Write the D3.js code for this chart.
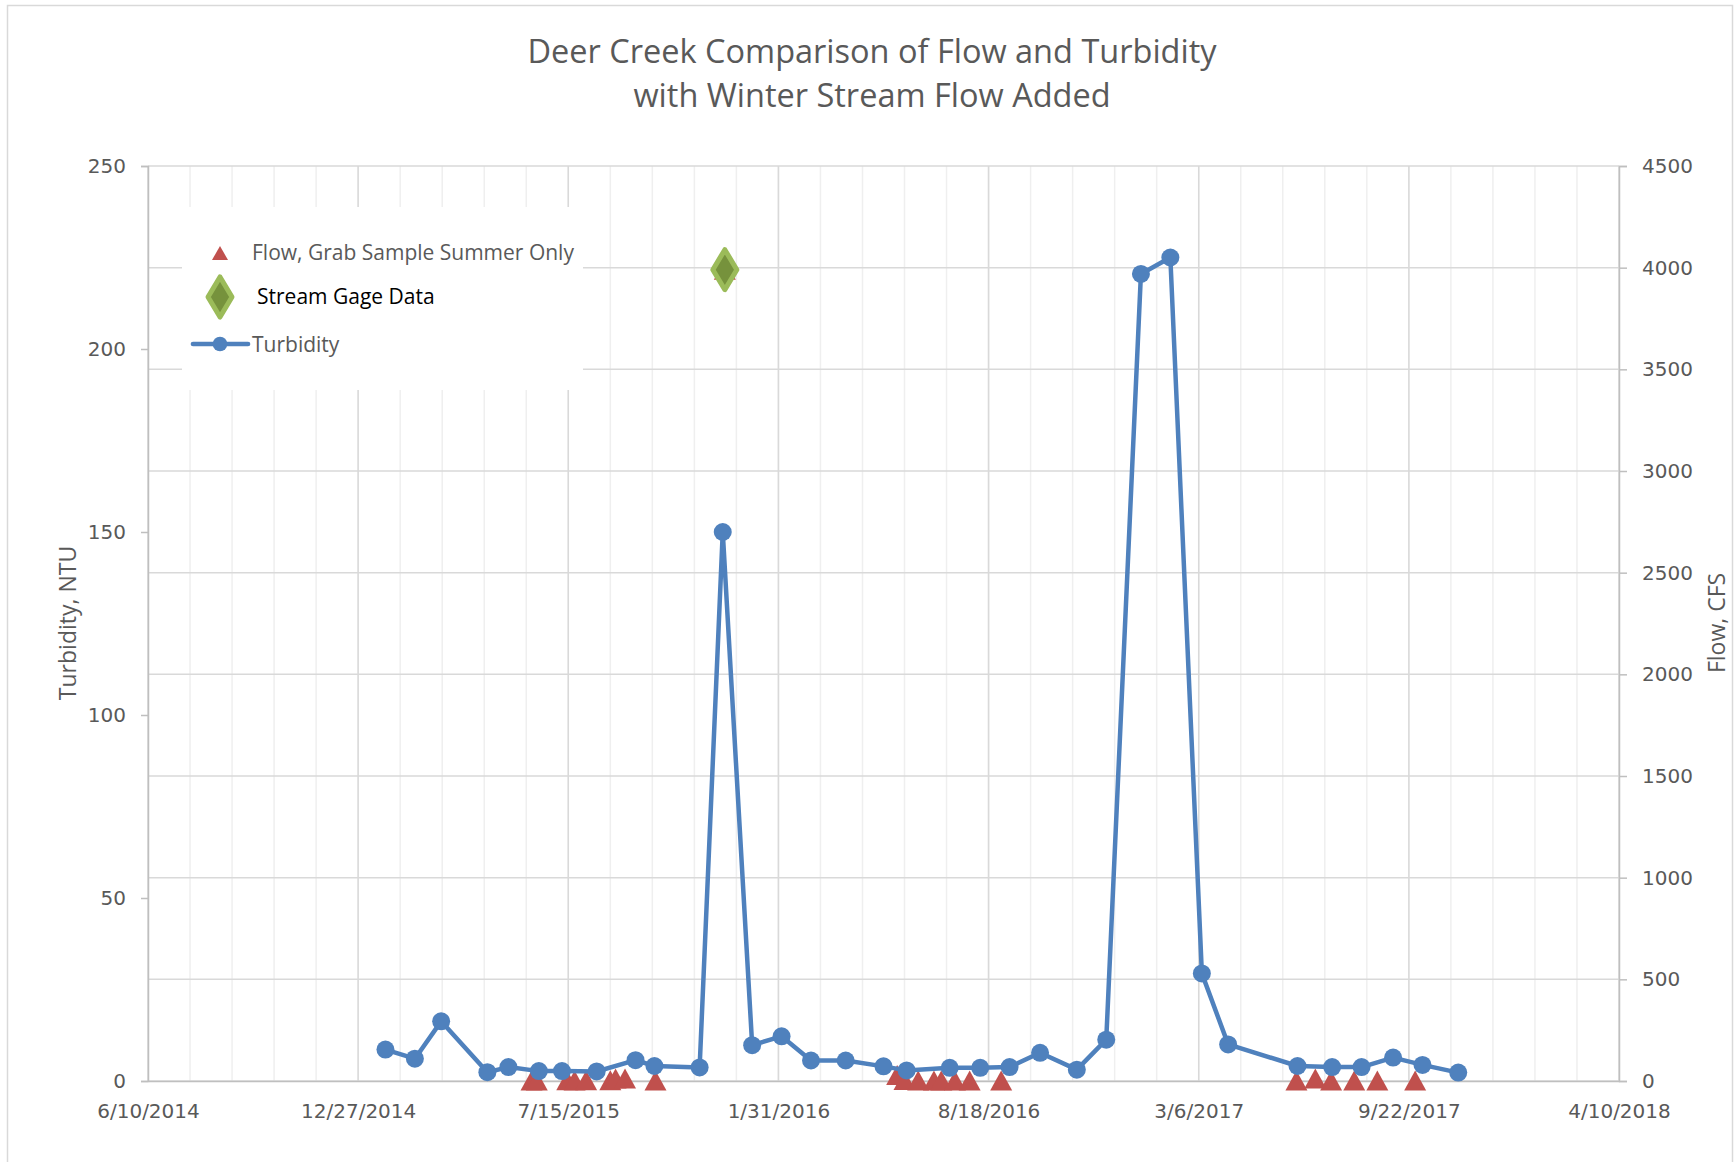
<!DOCTYPE html>
<html>
<head>
<meta charset="utf-8">
<script src="https://cdn.jsdelivr.net/npm/d3@7"></script>
<style>
  body { margin: 0; background: #fff; }
  svg { display: block; }
</style>
</head>
<body>
<svg id="chart" width="1735" height="1162"></svg>
<script>
// ---- data ----
const turbidityDates = [
  "2015-01-22", "2015-02-19", "2015-03-16", "2015-04-29", "2015-05-19", "2015-06-17",
  "2015-07-09", "2015-08-11", "2015-09-17", "2015-10-05", "2015-11-17", "2015-12-09",
  "2016-01-06", "2016-02-03", "2016-03-02", "2016-04-04", "2016-05-10", "2016-06-01",
  "2016-07-12", "2016-08-10", "2016-09-07", "2016-10-06", "2016-11-10", "2016-12-08",
  "2017-01-10", "2017-02-07", "2017-03-09", "2017-04-03", "2017-06-08", "2017-07-11",
  "2017-08-08", "2017-09-07", "2017-10-05", "2017-11-08"
];
const turbidityValues = [
  8.6, 6.1, 16.3, 2.4, 3.8, 2.7,
  2.7, 2.6, 5.7, 4.1, 3.7, 150,
  9.8, 12.2, 5.6, 5.6, 4.0, 2.9,
  3.6, 3.6, 3.8, 7.7, 3.1, 11.3,
  220.5, 225, 29.4, 10.0, 4.1, 3.8,
  3.8, 6.4, 4.4, 2.3
];

const grabDates = [
  "2015-06-10", "2015-06-15", "2015-07-14", "2015-07-21", "2015-08-01", "2015-08-24",
  "2015-08-29", "2015-09-07", "2015-10-06", "2015-12-11",
  "2016-05-23", "2016-05-30", "2016-06-12", "2016-06-27", "2016-07-04", "2016-07-17",
  "2016-07-31", "2016-08-30",
  "2017-06-07", "2017-06-25", "2017-07-10", "2017-08-01", "2017-08-23", "2017-09-28"
];
const grabFlows = [
  3, 3, 4, 3, 4, 4,
  12, 12, 3, 3990,
  30, 5, 3, 3, 3, 3,
  3, 3,
  3, 12, 3, 3, 3, 3
];

const gageDates = ["2015-12-11"];
const gageFlows = [3990];

const xTickLabels = ["6/10/2014", "12/27/2014", "7/15/2015", "1/31/2016",
                     "8/18/2016", "3/6/2017", "9/22/2017", "4/10/2018"];
const turbidityTicks = [0, 50, 100, 150, 200, 250];
const flowTicks = [0, 500, 1000, 1500, 2000, 2500, 3000, 3500, 4000, 4500];

// ---- layout ----
const svg = d3.select("#chart");
const plot = { left: 148, right: 1619, top: 166, bottom: 1081 };
const textGray = "#595959";

const parseISO = d3.utcParse("%Y-%m-%d");
const parseLabel = d3.utcParse("%m/%d/%Y");
const tickDates = xTickLabels.map(parseLabel);

const x = d3.scaleUtc()
  .domain([tickDates[0], tickDates[tickDates.length - 1]])
  .range([plot.left, plot.right]);
const yTurb = d3.scaleLinear().domain([0, 250]).range([plot.bottom, plot.top]);
const yFlow = d3.scaleLinear().domain([0, 4500]).range([plot.bottom, plot.top]);

// chart frame
svg.append("rect")
  .attr("x", 7.5).attr("y", 5.5)
  .attr("width", 1725).attr("height", 1180)
  .attr("fill", "#fff").attr("stroke", "#d9d9d9").attr("stroke-width", 1.5);

// minor vertical gridlines every 40 days
const minorDates = d3.range(0, 1401, 40).map(d => d3.utcDay.offset(tickDates[0], d));
svg.append("g").selectAll("line")
  .data(minorDates)
  .join("line")
  .attr("x1", d => x(d)).attr("x2", d => x(d))
  .attr("y1", plot.top).attr("y2", plot.bottom)
  .attr("stroke", "#efefef").attr("stroke-width", 1.5);

// major vertical gridlines
svg.append("g").selectAll("line")
  .data(tickDates)
  .join("line")
  .attr("x1", d => x(d)).attr("x2", d => x(d))
  .attr("y1", plot.top).attr("y2", plot.bottom)
  .attr("stroke", "#d9d9d9").attr("stroke-width", 1.5);

// horizontal gridlines (secondary axis)
svg.append("g").selectAll("line")
  .data(flowTicks)
  .join("line")
  .attr("x1", plot.left).attr("x2", plot.right)
  .attr("y1", d => yFlow(d)).attr("y2", d => yFlow(d))
  .attr("stroke", "#d9d9d9").attr("stroke-width", 1.5);

// ---- axes ----
const axisFont = "'DejaVu Sans', Verdana, sans-serif";

const leftAxis = svg.append("g")
  .attr("transform", `translate(${plot.left},0)`)
  .call(d3.axisLeft(yTurb).tickValues(turbidityTicks).tickSize(7).tickPadding(15)
    .tickFormat(d3.format("d")));

const rightAxis = svg.append("g")
  .attr("transform", `translate(${plot.right},0)`)
  .call(d3.axisRight(yFlow).tickValues(flowTicks).tickSize(8).tickPadding(15)
    .tickFormat(d3.format("d")));

const bottomAxis = svg.append("g")
  .attr("transform", `translate(0,${plot.bottom})`)
  .call(d3.axisBottom(x).tickValues(tickDates).tickSize(0)
    .tickFormat((d, i) => xTickLabels[i]));

[leftAxis, rightAxis, bottomAxis].forEach(g => {
  g.select(".domain").attr("stroke", "#bfbfbf").attr("stroke-width", 1.5);
  g.selectAll(".tick line").attr("stroke", "#bfbfbf").attr("stroke-width", 1.5);
  g.selectAll(".tick text")
    .attr("fill", textGray)
    .style("font-family", axisFont)
    .style("font-size", "20px");
});
bottomAxis.selectAll(".tick text").attr("y", 37).attr("dy", 0);

// axis titles
svg.append("text")
  .attr("transform", `translate(67,623) rotate(-90)`)
  .attr("text-anchor", "middle")
  .attr("dominant-baseline", "central")
  .attr("fill", textGray)
  .style("font-family", "'Open Sans', sans-serif")
  .style("font-size", "23px")
  .text("Turbidity, NTU");

svg.append("text")
  .attr("transform", `translate(1716,623) rotate(-90)`)
  .attr("text-anchor", "middle")
  .attr("dominant-baseline", "central")
  .attr("fill", textGray)
  .style("font-family", "'Open Sans', sans-serif")
  .style("font-size", "23px")
  .text("Flow, CFS");

// title
const title = svg.append("text")
  .attr("text-anchor", "middle")
  .attr("fill", textGray)
  .style("font-family", "'Open Sans', sans-serif")
  .style("font-size", "32.5px");
title.append("tspan").attr("x", 872).attr("y", 63).text("Deer Creek Comparison of Flow and Turbidity");
title.append("tspan").attr("x", 872).attr("y", 107).text("with Winter Stream Flow Added");

// ---- marks ----
const red = "#c0504d", blue = "#4f81bd", greenEdge = "#9bbb59", greenFill = "#76923c";
const triPath = (w, h) => `M0,${-h / 2}L${w / 2},${h / 2}L${-w / 2},${h / 2}Z`;
const diamondPath = (w, h) => `M0,${-h / 2}L${w / 2},0L0,${h / 2}L${-w / 2},0Z`;

const grab = grabDates.map((d, i) => ({ date: parseISO(d), flow: grabFlows[i] }));
const gage = gageDates.map((d, i) => ({ date: parseISO(d), flow: gageFlows[i] }));
const turb = turbidityDates.map((d, i) => ({ date: parseISO(d), value: turbidityValues[i] }));

// flow grab samples (triangles)
svg.append("g").selectAll("path")
  .data(grab)
  .join("path")
  .attr("transform", d => `translate(${x(d.date)},${yFlow(d.flow)})`)
  .attr("d", triPath(22, 20))
  .attr("fill", red);

// stream gage data (diamonds)
svg.append("g").selectAll("path")
  .data(gage)
  .join("path")
  .attr("transform", d => `translate(${x(d.date)},${yFlow(d.flow)})`)
  .attr("d", diamondPath(24, 40))
  .attr("fill", greenFill)
  .attr("stroke", greenEdge)
  .attr("stroke-width", 5)
  .attr("stroke-linejoin", "round");

// turbidity line + markers
svg.append("path")
  .datum(turb)
  .attr("d", d3.line().x(d => x(d.date)).y(d => yTurb(d.value)))
  .attr("fill", "none")
  .attr("stroke", blue)
  .attr("stroke-width", 4.5)
  .attr("stroke-linejoin", "round");

svg.append("g").selectAll("circle")
  .data(turb)
  .join("circle")
  .attr("cx", d => x(d.date))
  .attr("cy", d => yTurb(d.value))
  .attr("r", 9)
  .attr("fill", blue);

// ---- legend ----
const legend = svg.append("g");
legend.append("rect")
  .attr("x", 182).attr("y", 207)
  .attr("width", 401).attr("height", 183)
  .attr("fill", "#fff");

const legendFont = "'Open Sans', sans-serif";
legend.append("path")
  .attr("transform", "translate(220,253)")
  .attr("d", triPath(16, 14))
  .attr("fill", red);
legend.append("text")
  .attr("x", 252).attr("y", 260)
  .attr("fill", textGray)
  .style("font-family", legendFont).style("font-size", "21px")
  .text("Flow, Grab Sample Summer Only");

legend.append("path")
  .attr("transform", "translate(220,297)")
  .attr("d", diamondPath(24, 40))
  .attr("fill", greenFill)
  .attr("stroke", greenEdge)
  .attr("stroke-width", 5)
  .attr("stroke-linejoin", "round");
legend.append("text")
  .attr("x", 257).attr("y", 304)
  .attr("fill", "#000")
  .style("font-family", legendFont).style("font-size", "21px")
  .text("Stream Gage Data");

legend.append("line")
  .attr("x1", 193).attr("x2", 248)
  .attr("y1", 344).attr("y2", 344)
  .attr("stroke", blue).attr("stroke-width", 4.7).attr("stroke-linecap", "round");
legend.append("circle")
  .attr("cx", 220).attr("cy", 344).attr("r", 7.3)
  .attr("fill", blue);
legend.append("text")
  .attr("x", 252).attr("y", 352)
  .attr("fill", textGray)
  .style("font-family", legendFont).style("font-size", "21px")
  .text("Turbidity");
</script>
</body>
</html>
